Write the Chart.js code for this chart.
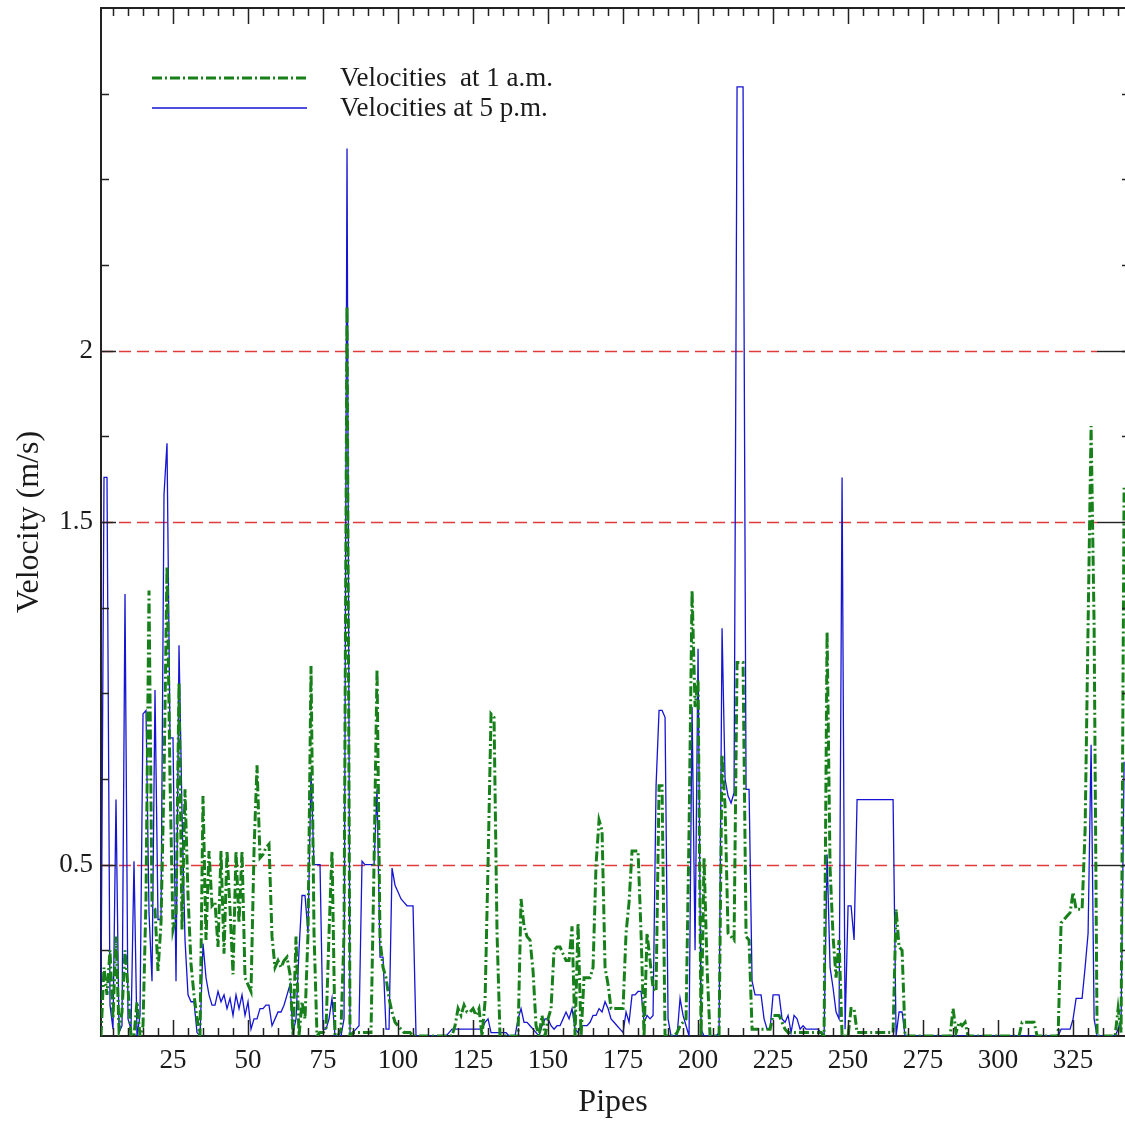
<!DOCTYPE html>
<html>
<head>
<meta charset="utf-8">
<script src="https://cdn.jsdelivr.net/npm/chart.js@4.4.0/dist/chart.umd.min.js"></script>
<style>
  html, body { margin: 0; padding: 0; background: #fff; overflow: hidden; }
  #wrap { width: 1125px; height: 1123px; }
</style>
</head>
<body>
<div id="wrap"><canvas id="velocityChart" width="1125" height="1123"></canvas></div>
<script>
// velocities (m/s) per pipe, pipe 1 .. 342

const velocities1am = [
  0.00, 0.20, 0.12, 0.25, 0.05, 0.29, 0.02, 0.07, 0.25, 0.14,   // 1-10
  0.00, 0.00, 0.10, 0.00, 0.03, 0.40, 1.30, 0.38, 0.37, 0.19,   // 11-20
  0.33, 0.75, 1.37, 0.75, 0.31, 0.35, 1.03, 0.31, 0.72, 0.41,   // 21-30
  0.21, 0.12, 0.05, 0.00, 0.70, 0.28, 0.54, 0.38, 0.39, 0.26,   // 31-40
  0.54, 0.24, 0.54, 0.37, 0.18, 0.54, 0.33, 0.54, 0.17, 0.15,   // 41-50
  0.13, 0.54, 0.79, 0.52, 0.53, 0.55, 0.56, 0.29, 0.20, 0.22,   // 51-60
  0.20, 0.22, 0.23, 0.18, 0.00, 0.29, 0.00, 0.10, 0.05, 0.30,   // 61-70
  1.08, 0.30, 0.00, 0.01, 0.01, 0.02, 0.30, 0.54, 0.00, 0.00,   // 71-80
  0.02, 0.30, 2.13, 0.00, 0.01, 0.01, 0.01, 0.01, 0.01, 0.01,   // 81-90
  0.01, 0.50, 1.07, 0.28, 0.20, 0.17, 0.11, 0.07, 0.04, 0.03,   // 91-100
  0.02, 0.01, 0.01, 0.01, 0.00, 0.00, 0.00, 0.00, 0.00, 0.00,   // 101-110
  0.00, 0.00, 0.00, 0.00, 0.00, 0.00, 0.00, 0.00, 0.03, 0.08,   // 111-120
  0.06, 0.09, 0.07, 0.07, 0.08, 0.06, 0.08, 0.00, 0.10, 0.50,   // 121-130
  0.94, 0.93, 0.30, 0.00, 0.00, 0.00, 0.00, 0.00, 0.00, 0.00,   // 131-140
  0.40, 0.32, 0.29, 0.28, 0.19, 0.03, 0.00, 0.06, 0.00, 0.05,   // 141-150
  0.08, 0.25, 0.26, 0.26, 0.24, 0.22, 0.22, 0.32, 0.00, 0.33,   // 151-160
  0.00, 0.17, 0.17, 0.17, 0.20, 0.50, 0.63, 0.60, 0.20, 0.15,   // 161-170
  0.08, 0.08, 0.08, 0.08, 0.08, 0.30, 0.39, 0.54, 0.54, 0.54,   // 171-180
  0.30, 0.00, 0.30, 0.22, 0.14, 0.13, 0.73, 0.73, 0.00, 0.00,   // 181-190
  0.00, 0.00, 0.01, 0.03, 0.04, 0.05, 0.60, 1.30, 0.96, 1.04,   // 191-200
  0.00, 0.52, 0.20, 0.00, 0.00, 0.00, 0.00, 0.82, 0.67, 0.30,   // 201-210
  0.29, 0.28, 1.09, 1.09, 1.09, 0.29, 0.28, 0.02, 0.02, 0.02,   // 211-220
  0.02, 0.02, 0.02, 0.02, 0.06, 0.06, 0.06, 0.04, 0.02, 0.01,   // 221-230
  0.01, 0.01, 0.01, 0.01, 0.01, 0.01, 0.01, 0.01, 0.01, 0.01,   // 231-240
  0.01, 0.00, 1.18, 0.49, 0.29, 0.17, 0.28, 0.00, 0.00, 0.00,   // 241-250
  0.08, 0.08, 0.01, 0.01, 0.01, 0.01, 0.01, 0.01, 0.01, 0.01,   // 251-260
  0.01, 0.01, 0.01, 0.01, 0.01, 0.37, 0.26, 0.25, 0.00, 0.00,   // 261-270
  0.00, 0.00, 0.00, 0.00, 0.00, 0.00, 0.00, 0.00, 0.00, 0.00,   // 271-280
  0.00, 0.00, 0.00, 0.00, 0.08, 0.01, 0.04, 0.03, 0.04, 0.00,   // 281-290
  0.00, 0.00, 0.00, 0.00, 0.00, 0.00, 0.00, 0.00, 0.00, 0.00,   // 291-300
  0.00, 0.00, 0.00, 0.00, 0.00, 0.00, 0.00, 0.04, 0.04, 0.04,   // 301-310
  0.04, 0.04, 0.00, 0.00, 0.00, 0.00, 0.00, 0.00, 0.00, 0.00,   // 311-320
  0.33, 0.34, 0.35, 0.36, 0.42, 0.37, 0.37, 0.37, 0.60, 1.20,   // 321-330
  1.78, 1.20, 0.00, 0.00, 0.00, 0.00, 0.00, 0.00, 0.00, 0.08,   // 331-340
  0.01, 1.60                                                    // 341-342
];

const velocities5pm = [
  0.10, 1.63, 1.63, 0.09, 0.02, 0.69, 0.01, 0.03, 1.29, 0.05,   // 1-10
  0.02, 0.51, 0.00, 0.06, 0.94, 0.95, 0.36, 0.16, 1.01, 0.34,   // 11-20
  0.34, 1.58, 1.73, 0.87, 0.87, 0.16, 1.14, 0.65, 0.28, 0.12,   // 21-30
  0.10, 0.10, 0.01, 0.00, 0.27, 0.17, 0.12, 0.09, 0.09, 0.13,   // 31-40
  0.10, 0.12, 0.08, 0.11, 0.06, 0.12, 0.08, 0.12, 0.06, 0.10,   // 41-50
  0.02, 0.05, 0.05, 0.08, 0.08, 0.09, 0.09, 0.03, 0.05, 0.07,   // 51-60
  0.07, 0.09, 0.12, 0.15, 0.01, 0.05, 0.25, 0.41, 0.41, 0.30,   // 61-70
  0.77, 0.50, 0.50, 0.50, 0.02, 0.02, 0.05, 0.11, 0.00, 0.00,   // 71-80
  0.00, 0.05, 2.59, 0.00, 0.01, 0.02, 0.03, 0.51, 0.50, 0.50,   // 81-90
  0.50, 0.50, 0.72, 0.23, 0.23, 0.02, 0.02, 0.49, 0.44, 0.42,   // 91-100
  0.40, 0.39, 0.38, 0.38, 0.38, 0.00, 0.00, 0.00, 0.00, 0.00,   // 101-110
  0.00, 0.00, 0.00, 0.00, 0.00, 0.00, 0.01, 0.02, 0.02, 0.02,   // 111-120
  0.02, 0.02, 0.02, 0.02, 0.02, 0.02, 0.02, 0.02, 0.04, 0.05,   // 121-130
  0.01, 0.01, 0.01, 0.01, 0.01, 0.01, 0.00, 0.00, 0.00, 0.05,   // 131-140
  0.08, 0.04, 0.04, 0.03, 0.02, 0.01, 0.00, 0.03, 0.05, 0.05,   // 141-150
  0.03, 0.02, 0.03, 0.03, 0.05, 0.07, 0.05, 0.08, 0.02, 0.01,   // 151-160
  0.03, 0.03, 0.03, 0.04, 0.06, 0.06, 0.08, 0.07, 0.10, 0.08,   // 161-170
  0.05, 0.04, 0.03, 0.02, 0.01, 0.07, 0.04, 0.12, 0.12, 0.13,   // 171-180
  0.13, 0.04, 0.06, 0.05, 0.06, 0.73, 0.95, 0.95, 0.93, 0.05,   // 181-190
  0.00, 0.00, 0.00, 0.11, 0.06, 0.03, 0.00, 0.96, 0.25, 1.13,   // 191-200
  0.02, 0.00, 0.00, 0.00, 0.00, 0.00, 0.01, 1.19, 0.75, 0.70,   // 201-210
  0.68, 0.71, 2.77, 2.77, 2.77, 0.72, 0.72, 0.16, 0.12, 0.12,   // 211-220
  0.12, 0.05, 0.02, 0.02, 0.12, 0.12, 0.12, 0.05, 0.04, 0.06,   // 221-230
  0.01, 0.06, 0.05, 0.02, 0.03, 0.02, 0.02, 0.02, 0.02, 0.02,   // 231-240
  0.01, 0.00, 0.53, 0.20, 0.14, 0.07, 0.05, 1.63, 0.02, 0.38,   // 241-250
  0.38, 0.28, 0.69, 0.69, 0.69, 0.69, 0.69, 0.69, 0.69, 0.69,   // 251-260
  0.69, 0.69, 0.69, 0.69, 0.69, 0.00, 0.07, 0.07, 0.00, 0.00,   // 261-270
  0.00, 0.00, 0.00, 0.00, 0.00, 0.00, 0.00, 0.00, 0.00, 0.00,   // 271-280
  0.00, 0.00, 0.00, 0.00, 0.00, 0.00, 0.00, 0.00, 0.00, 0.00,   // 281-290
  0.00, 0.00, 0.00, 0.00, 0.00, 0.00, 0.00, 0.00, 0.00, 0.00,   // 291-300
  0.00, 0.00, 0.00, 0.00, 0.00, 0.00, 0.00, 0.00, 0.00, 0.00,   // 301-310
  0.00, 0.00, 0.00, 0.00, 0.00, 0.00, 0.00, 0.00, 0.00, 0.00,   // 311-320
  0.02, 0.02, 0.02, 0.02, 0.05, 0.11, 0.11, 0.11, 0.20, 0.30,   // 321-330
  0.85, 0.05, 0.00, 0.00, 0.00, 0.00, 0.00, 0.00, 0.00, 0.02,   // 331-340
  0.05, 0.80                                                    // 341-342
];

const seriesLabels = ['Velocities  at 1 a.m.', 'Velocities at 5 p.m.'];
const xTickValues = [25, 50, 75, 100, 125, 150, 175, 200, 225, 250, 275, 300, 325];
const yTickValues = [0.5, 1.5, 2];
const limitValues = [0.5, 1.5, 2];

const serif = "'Liberation Serif', 'Times New Roman', serif";
const inkColor = '#1a1a1a';

// pipe number = position in the array + 1
const toPoints = arr => arr.map((v, i) => ({ x: i + 1, y: v }));


// red limit lines, drawn under the data
const limitLinesPlugin = {
  id: 'limitLines',
  beforeDatasetsDraw(chart) {
    const { ctx, chartArea: a, scales: { y } } = chart;
    ctx.save();
    limitValues.forEach(v => {
      const py = Math.round(y.getPixelForValue(v)) + 0.5;
      ctx.strokeStyle = '#e03a3a';
      ctx.lineWidth = 1.6;
      ctx.setLineDash([12, 6]);
      ctx.beginPath();
      ctx.moveTo(a.left, py);
      ctx.lineTo(a.right - 28, py);
      ctx.stroke();
      // the last stretch is solid black in the original
      ctx.setLineDash([]);
      ctx.strokeStyle = '#222';
      ctx.lineWidth = 1.4;
      ctx.beginPath();
      ctx.moveTo(a.right - 28, py);
      ctx.lineTo(a.right, py);
      ctx.stroke();
    });
    ctx.restore();
  }
};

// frame: top line plus inward ticks on all sides
const framePlugin = {
  id: 'frame',
  afterDraw(chart) {
    const { ctx, chartArea: a, scales: { x, y } } = chart;
    ctx.save();
    ctx.strokeStyle = '#222';
    ctx.lineWidth = 2;
    ctx.beginPath();
    ctx.moveTo(a.left, a.top);
    ctx.lineTo(a.right, a.top);
    ctx.stroke();

    ctx.lineWidth = 1.5;
    ctx.beginPath();
    for (let p = 5; p <= x.max; p += 5) {
      const px = Math.round(x.getPixelForValue(p)) + 0.5;
      const len = p % 25 === 0 ? 16 : 8;
      ctx.moveTo(px, a.bottom);
      ctx.lineTo(px, a.bottom - len);
      ctx.moveTo(px, a.top);
      ctx.lineTo(px, a.top + len);
    }
    for (let v = 0.25; v < y.max; v += 0.25) {
      const py = Math.round(y.getPixelForValue(v)) + 0.5;
      const len = limitValues.includes(v) ? 15 : 8;
      ctx.moveTo(a.left, py);
      ctx.lineTo(a.left + len, py);
      ctx.moveTo(a.right, py);
      ctx.lineTo(a.right - 3, py);
    }
    ctx.stroke();
    ctx.restore();
  }
};

// legend in the upper left of the plot
const legendPlugin = {
  id: 'innerLegend',
  afterDraw(chart) {
    const { ctx } = chart;
    ctx.save();
    chart.data.datasets.forEach((ds, i) => {
      const yy = 78 + i * 30;
      ctx.strokeStyle = ds.borderColor;
      ctx.lineWidth = ds.borderWidth;
      ctx.setLineDash(ds.borderDash || []);
      ctx.beginPath();
      ctx.moveTo(152, yy);
      ctx.lineTo(307, yy);
      ctx.stroke();
      ctx.setLineDash([]);
      ctx.fillStyle = inkColor;
      ctx.font = '27px ' + serif;
      ctx.textBaseline = 'middle';
      ctx.textAlign = 'left';
      ctx.fillText(ds.label, 340, yy + 1);
    });
    ctx.restore();
  }
};


const chart = new Chart(document.getElementById('velocityChart'), {
  type: 'line',
  data: {
    datasets: [
      {
        label: seriesLabels[0],
        data: toPoints(velocities1am),
        borderColor: '#17801b',
        borderWidth: 3,
        borderDash: [10, 3, 2, 3],
        pointRadius: 0,
        tension: 0
      },
      {
        label: seriesLabels[1],
        data: toPoints(velocities5pm),
        borderColor: '#1414d2',
        borderWidth: 1.3,
        pointRadius: 0,
        tension: 0
      }
    ]
  },
  options: {
    responsive: false,
    animation: false,
    devicePixelRatio: 1,
    layout: { padding: { top: 8, right: 0, left: 0, bottom: 0 } },
    plugins: {
      legend: { display: false },
      tooltip: { enabled: false }
    },
    scales: {
      x: {
        type: 'linear',
        min: 1,
        max: 342.3,
        grid: { display: false, drawTicks: false },
        border: { display: true, color: '#222', width: 2 },
        afterBuildTicks: scale => { scale.ticks = xTickValues.map(v => ({ value: v })); },
        afterFit: scale => {
          scale.height = 87;
          scale.paddingLeft = 0;
          scale.paddingRight = 0;
        },
        ticks: {
          padding: 9,
          color: inkColor,
          font: { family: serif, size: 27 },
          maxRotation: 0,
          autoSkip: false
        },
        title: {
          display: true,
          text: 'Pipes',
          color: inkColor,
          font: { family: serif, size: 32 },
          padding: { top: 0, bottom: 1 }
        }
      },
      y: {
        min: 0,
        max: 3,
        grid: { display: false, drawTicks: false },
        border: { display: true, color: '#222', width: 2 },
        afterBuildTicks: scale => { scale.ticks = yTickValues.map(v => ({ value: v })); },
        afterFit: scale => {
          scale.width = 101;
          scale.paddingTop = 0;
          scale.paddingBottom = 0;
        },
        ticks: {
          padding: 8,
          color: inkColor,
          font: { family: serif, size: 27 },
          callback: v => String(v)
        },
        title: {
          display: true,
          text: 'Velocity (m/s)',
          color: inkColor,
          font: { family: serif, size: 32 },
          padding: { top: 10, bottom: 0 }
        }
      }
    }
  },
  plugins: [limitLinesPlugin, framePlugin, legendPlugin]
});
</script>
</body>
</html>
